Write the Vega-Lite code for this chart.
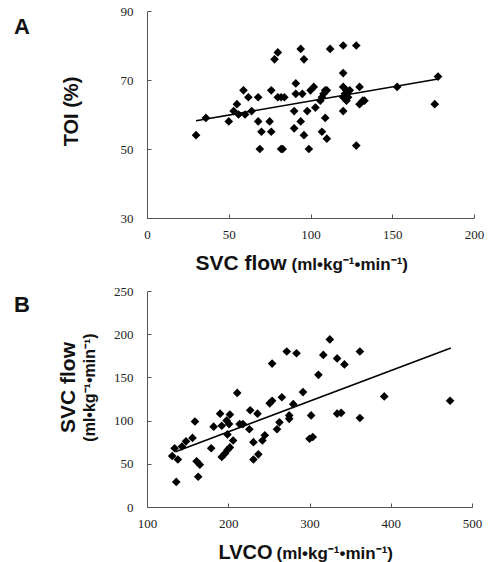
{
  "$schema": "https://vega.github.io/schema/vega-lite/v6.json",
  "background": "white",
  "padding": {"left": 14, "top": 5, "right": 5, "bottom": 5},
  "spacing": 12,
  "config": {
    "view": {"stroke": null},
    "axis": {
      "grid": false,
      "domainColor": "#555",
      "tickColor": "#555",
      "tickSize": -4,
      "labelFlush": false,
      "labelFont": "Liberation Serif",
      "labelFontSize": 13,
      "labelColor": "#222",
      "titleFont": "Liberation Sans",
      "titleFontWeight": "bold",
      "titleColor": "#111"
    },
    "title": {"font": "Liberation Sans", "fontWeight": "bold", "fontSize": 22, "anchor": "start", "frame": "group", "baseline": "top", "color": "#111"}
  },
  "datasets": {
    "a": [
      {"svc": 30, "toi": 54}, {"svc": 36, "toi": 59}, {"svc": 50, "toi": 58}, {"svc": 53, "toi": 61},
      {"svc": 55, "toi": 63}, {"svc": 56, "toi": 60}, {"svc": 59, "toi": 67}, {"svc": 60, "toi": 60},
      {"svc": 62, "toi": 65}, {"svc": 64, "toi": 61}, {"svc": 68, "toi": 65}, {"svc": 68, "toi": 58},
      {"svc": 69, "toi": 50}, {"svc": 70, "toi": 55}, {"svc": 76, "toi": 67}, {"svc": 75, "toi": 58},
      {"svc": 76, "toi": 55}, {"svc": 78, "toi": 76}, {"svc": 80, "toi": 78}, {"svc": 80, "toi": 65},
      {"svc": 82, "toi": 65}, {"svc": 84, "toi": 65}, {"svc": 82, "toi": 50}, {"svc": 83, "toi": 50},
      {"svc": 90, "toi": 56}, {"svc": 90, "toi": 61}, {"svc": 91, "toi": 69}, {"svc": 91, "toi": 66},
      {"svc": 94, "toi": 58}, {"svc": 94, "toi": 79}, {"svc": 95, "toi": 66}, {"svc": 96, "toi": 76},
      {"svc": 96, "toi": 54}, {"svc": 98, "toi": 61}, {"svc": 99, "toi": 50}, {"svc": 100, "toi": 67},
      {"svc": 102, "toi": 68}, {"svc": 103, "toi": 62}, {"svc": 106, "toi": 64}, {"svc": 107, "toi": 65},
      {"svc": 107, "toi": 55}, {"svc": 108, "toi": 66}, {"svc": 109, "toi": 67}, {"svc": 110, "toi": 67},
      {"svc": 109, "toi": 59}, {"svc": 110, "toi": 53}, {"svc": 112, "toi": 79}, {"svc": 120, "toi": 80},
      {"svc": 120, "toi": 72}, {"svc": 120, "toi": 68}, {"svc": 120, "toi": 65}, {"svc": 120, "toi": 61},
      {"svc": 121, "toi": 66}, {"svc": 122, "toi": 67}, {"svc": 122, "toi": 64}, {"svc": 123, "toi": 65},
      {"svc": 124, "toi": 67}, {"svc": 128, "toi": 80}, {"svc": 128, "toi": 51}, {"svc": 130, "toi": 68},
      {"svc": 130, "toi": 63}, {"svc": 132, "toi": 64}, {"svc": 133, "toi": 64}, {"svc": 153, "toi": 68},
      {"svc": 176, "toi": 63}, {"svc": 178, "toi": 71}
    ],
    "aline": [{"svc": 30, "toi": 58.2}, {"svc": 178, "toi": 70.3}],
    "b": [
      {"lvco": 136, "svc": 29}, {"lvco": 131, "svc": 59}, {"lvco": 134, "svc": 68}, {"lvco": 138, "svc": 55},
      {"lvco": 143, "svc": 70}, {"lvco": 148, "svc": 76}, {"lvco": 156, "svc": 80}, {"lvco": 159, "svc": 99},
      {"lvco": 161, "svc": 53}, {"lvco": 165, "svc": 49}, {"lvco": 163, "svc": 35}, {"lvco": 179, "svc": 68},
      {"lvco": 182, "svc": 93}, {"lvco": 190, "svc": 108}, {"lvco": 192, "svc": 94}, {"lvco": 192, "svc": 58},
      {"lvco": 196, "svc": 62}, {"lvco": 199, "svc": 66}, {"lvco": 202, "svc": 69}, {"lvco": 199, "svc": 84},
      {"lvco": 198, "svc": 100}, {"lvco": 202, "svc": 107}, {"lvco": 201, "svc": 96}, {"lvco": 206, "svc": 77},
      {"lvco": 211, "svc": 132}, {"lvco": 214, "svc": 96}, {"lvco": 218, "svc": 96}, {"lvco": 227, "svc": 112},
      {"lvco": 226, "svc": 90}, {"lvco": 231, "svc": 75}, {"lvco": 231, "svc": 55}, {"lvco": 236, "svc": 108},
      {"lvco": 237, "svc": 61}, {"lvco": 242, "svc": 77}, {"lvco": 245, "svc": 83}, {"lvco": 251, "svc": 120},
      {"lvco": 254, "svc": 123}, {"lvco": 254, "svc": 166}, {"lvco": 260, "svc": 90}, {"lvco": 263, "svc": 98},
      {"lvco": 266, "svc": 127}, {"lvco": 272, "svc": 180}, {"lvco": 275, "svc": 106}, {"lvco": 275, "svc": 102},
      {"lvco": 280, "svc": 119}, {"lvco": 284, "svc": 178}, {"lvco": 292, "svc": 133}, {"lvco": 300, "svc": 79},
      {"lvco": 304, "svc": 81}, {"lvco": 302, "svc": 106}, {"lvco": 311, "svc": 153}, {"lvco": 317, "svc": 176},
      {"lvco": 325, "svc": 194}, {"lvco": 334, "svc": 172}, {"lvco": 343, "svc": 165}, {"lvco": 334, "svc": 108},
      {"lvco": 339, "svc": 109}, {"lvco": 362, "svc": 180}, {"lvco": 362, "svc": 103}, {"lvco": 392, "svc": 128},
      {"lvco": 473, "svc": 123}
    ],
    "bline": [{"lvco": 135, "svc": 64}, {"lvco": 474, "svc": 184}]
  },
  "vconcat": [
    {
      "width": 327,
      "height": 207,
      "title": {"text": "A", "dx": -133, "dy": 38},
      "layer": [
        {
          "data": {"name": "a"},
          "mark": {"type": "point", "shape": "diamond", "filled": true, "color": "black", "size": 75, "opacity": 1},
          "encoding": {
            "x": {"field": "svc", "type": "quantitative",
              "scale": {"domain": [0, 200], "nice": false, "zero": false},
              "axis": {"orient": "bottom", "values": [0, 50, 100, 150, 200], "title": "SVC flow", "titleFontSize": 21, "titleX": 139, "titleY": 51, "titleAlign": "right", "titleBaseline": "alphabetic", "labelPadding": 14}},
            "y": {"field": "toi", "type": "quantitative",
              "scale": {"domain": [30, 90], "nice": false, "zero": false},
              "axis": {"orient": "left", "values": [30, 50, 70, 90], "title": "TOI (%)", "titleFontSize": 20, "titleX": -70, "titleY": 100, "titleBaseline": "alphabetic", "labelPadding": 18}}
          }
        },
        {
          "data": {"name": "aline"},
          "mark": {"type": "line", "color": "black", "strokeWidth": 1.5},
          "encoding": {
            "x": {"field": "svc", "type": "quantitative",
              "axis": {"orient": "bottom", "title": "(ml•kg⁻¹•min⁻¹)", "labels": false, "ticks": false, "domain": false, "titleFontSize": 17, "titleX": 144, "titleY": 51, "titleAlign": "left", "titleBaseline": "alphabetic"}},
            "y": {"field": "toi", "type": "quantitative", "axis": null}
          }
        }
      ],
      "resolve": {"axis": {"x": "independent", "y": "independent"}}
    },
    {
      "width": 325,
      "height": 216,
      "title": {"text": "B", "dx": -133, "dy": 36},
      "layer": [
        {
          "data": {"name": "b"},
          "mark": {"type": "point", "shape": "diamond", "filled": true, "color": "black", "size": 75, "opacity": 1},
          "encoding": {
            "x": {"field": "lvco", "type": "quantitative",
              "scale": {"domain": [100, 500], "nice": false, "zero": false},
              "axis": {"orient": "bottom", "values": [100, 200, 300, 400, 500], "title": "LVCO", "titleFontSize": 20, "titleX": 125, "titleY": 51, "titleAlign": "right", "titleBaseline": "alphabetic", "labelPadding": 14}},
            "y": {"field": "svc", "type": "quantitative",
              "scale": {"domain": [0, 250], "nice": false, "zero": false},
              "axis": {"orient": "left", "values": [0, 50, 100, 150, 200, 250], "title": "SVC flow", "titleFontSize": 21, "titleX": -73, "titleY": 96, "titleBaseline": "alphabetic", "labelPadding": 18}}
          }
        },
        {
          "data": {"name": "bline"},
          "mark": {"type": "line", "color": "black", "strokeWidth": 1.5},
          "encoding": {
            "x": {"field": "lvco", "type": "quantitative",
              "axis": {"orient": "bottom", "title": "(ml•kg⁻¹•min⁻¹)", "labels": false, "ticks": false, "domain": false, "titleFontSize": 17, "titleX": 129, "titleY": 51, "titleAlign": "left", "titleBaseline": "alphabetic"}},
            "y": {"field": "svc", "type": "quantitative",
              "axis": {"orient": "left", "title": "(ml•kg⁻¹•min⁻¹)", "labels": false, "ticks": false, "domain": false, "titleFontSize": 16, "titleX": -53, "titleY": 96, "titleBaseline": "alphabetic"}}
          }
        }
      ],
      "resolve": {"axis": {"x": "independent", "y": "independent"}}
    }
  ]
}
